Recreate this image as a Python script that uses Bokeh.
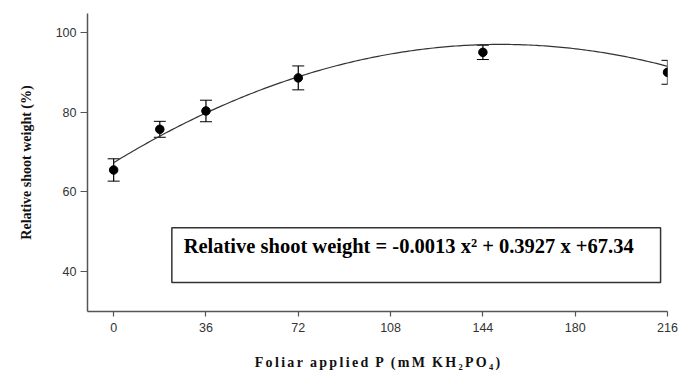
from bokeh.plotting import figure
from bokeh.models import Range1d, FixedTicker, Whisker, ColumnDataSource, BoxAnnotation, Label
from bokeh.embed import file_html
from bokeh.resources import INLINE
import numpy as np

# data
p_levels = [0, 18, 36, 72, 144, 216]
rel_weight = [65.5, 75.7, 80.3, 88.6, 95.0, 90.0]
err = [2.8, 2.0, 2.7, 3.0, 1.8, 3.0]
coef_a, coef_b, coef_c = -0.0013, 0.3927, 67.34
x_ticks = [0, 36, 72, 108, 144, 180, 216]
y_ticks = [40, 60, 80, 100]
equation = "Relative shoot weight = -0.0013 x\u00b2 + 0.3927 x +67.34"
x_title = "Foliar applied P (mM KH\u2082PO\u2084)"
y_title = "Relative shoot weight (%)"

def spaced(s):
    # widen letter spacing like the original
    words = s.split(" ")
    return "\u2002".join("\u2006".join(w) for w in words)

p = figure(width=679, height=376, output_backend="svg", toolbar_location=None,
           x_range=Range1d(-10.2, 216), y_range=Range1d(30, 104.75),
           min_border_left=87, min_border_right=12, min_border_top=13, min_border_bottom=65)
p.outline_line_color = None
p.xgrid.grid_line_color = None
p.ygrid.grid_line_color = None
p.background_fill_color = "white"
p.border_fill_color = "white"

for ax in (p.xaxis[0], p.yaxis[0]):
    ax.axis_line_color = "#555555"
    ax.axis_line_width = 1.5
    ax.major_tick_line_color = "#555555"
    ax.major_tick_line_width = 1.2
    ax.minor_tick_line_color = None
    ax.major_tick_in = 0
    ax.major_label_text_font = "Liberation Sans"
    ax.major_label_text_font_size = "12.5px"
    ax.major_label_text_color = "#333333"
    ax.axis_label_text_font = "Liberation Serif"
    ax.axis_label_text_font_style = "bold"
    ax.axis_label_text_color = "#111111"

p.xaxis.ticker = FixedTicker(ticks=x_ticks)
p.yaxis.ticker = FixedTicker(ticks=y_ticks)
p.xaxis.major_tick_out = 5
p.yaxis.major_tick_out = 7
p.xaxis.major_label_standoff = 6
p.yaxis.major_label_standoff = 4
p.xaxis.axis_label = spaced(x_title)
p.xaxis.axis_label_text_font_size = "14px"
p.xaxis.axis_label_standoff = 20
p.yaxis.axis_label = y_title
p.yaxis.axis_label_text_font_size = "14px"
p.yaxis.axis_label_standoff = 19

# fitted curve
xs = np.linspace(0, 216, 200)
ys = coef_a * xs**2 + coef_b * xs + coef_c
p.line(xs, ys, line_color="#333333", line_width=1.2)

src = ColumnDataSource(dict(x=p_levels, y=rel_weight,
                            upper=[v + e for v, e in zip(rel_weight, err)],
                            lower=[v - e for v, e in zip(rel_weight, err)]))
w = Whisker(source=src, base="x", upper="upper", lower="lower",
            line_color="black", line_width=1.2)
w.upper_head.size = 12
w.lower_head.size = 12
w.upper_head.line_color = "black"
w.lower_head.line_color = "black"
p.add_layout(w)
p.scatter("x", "y", source=src, size=8.5, color="black")

box = BoxAnnotation(left=22.7, right=213.3, bottom=37.25, top=51,
                    fill_color="white", fill_alpha=1, line_color="#333333",
                    line_alpha=1, line_width=1.5)
p.add_layout(box)
p.add_layout(Label(x=27.3, y=46.5, text=equation, text_font="Liberation Serif",
                   text_font_style="bold", text_font_size="20.5px", text_baseline="middle",
                   text_color="black"))

open("out.html", "w").write(file_html(p, INLINE))
